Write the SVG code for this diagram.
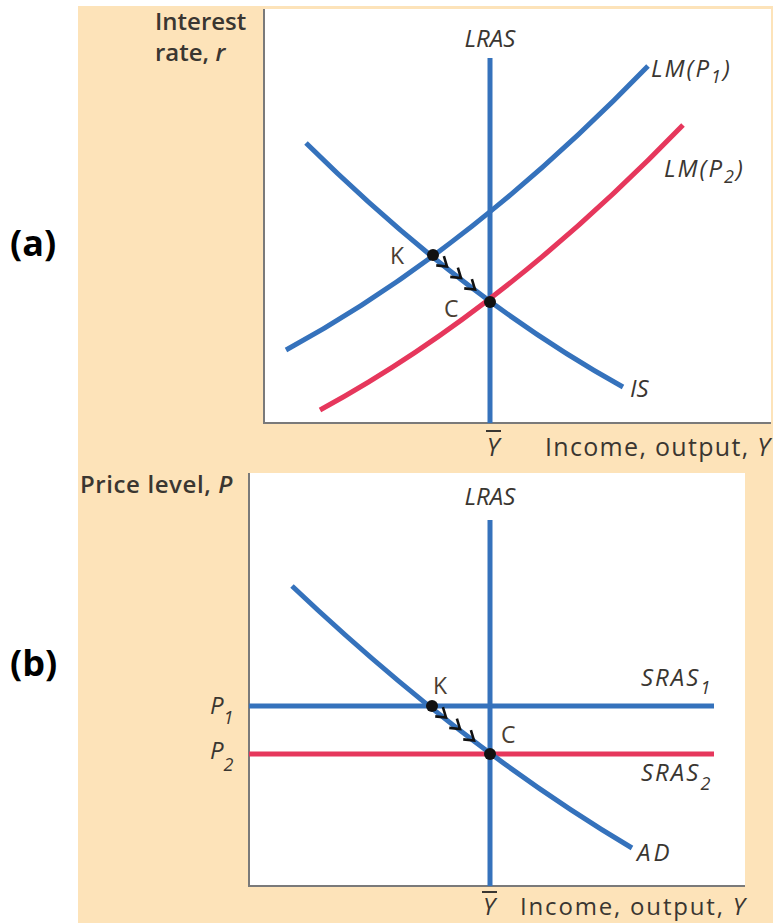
<svg xmlns="http://www.w3.org/2000/svg" xmlns:xlink="http://www.w3.org/1999/xlink" width="773" height="923" viewBox="0 0 773 923">
<style>
.bg{fill:#FDE3B9}
.plot{fill:#ffffff}
.axis{stroke:#7a7a7a;stroke-width:2;fill:none}
.blue{stroke:#3572BC;stroke-width:5;fill:none}
.red{stroke:#E6375C;stroke-width:5;fill:none}
.dot{fill:#111}
.chev{stroke:#111;stroke-width:2.6;fill:none;stroke-linejoin:miter}
text{font-family:"Open Sans","DejaVu Sans",sans-serif;fill:#3a3631}
.ax{font-size:25px}
.axs{font-size:24px}
.axb{font-size:24px;font-weight:600}
.lab{font-size:24px;font-style:italic}
.pt{font-size:23px;fill:#4a3e33}
.sub{font-size:18px}
.panel{font-family:"Open Sans",Arial,sans-serif;font-size:36px;font-weight:bold;fill:#000}
.bar{stroke:#3a3631;stroke-width:2}
</style>
<defs>
<path id="chev" class="chev" d="M-9,-6 L0,0 L-9,6"/>
</defs>
<rect class="bg" x="78" y="6" width="695" height="917"/>

<g id="panel-a">
<rect class="plot" x="264" y="9" width="507" height="414"/>
<path class="axis" d="M264,9 V423 H771"/>
</g>
<g id="panel-b">
<rect class="plot" x="249" y="473" width="496" height="413"/>
<path class="axis" d="M249,473 V886 H745"/>
</g>

<g id="connectors">
<line id="a-lras" class="blue" x1="490" y1="58" x2="490" y2="423"/>
<path id="a-lm1" class="blue" d="M286,350 Q470,250 648,66"/>
<path id="a-lm2" class="red" d="M320,410 Q504,310 683,125"/>
<path id="a-is" class="blue" d="M306,143 Q464,299 623,387"/>
<use xlink:href="#chev" transform="translate(447,266.5) rotate(39.5)"/>
<use xlink:href="#chev" transform="translate(461,278) rotate(39.5)"/>
<use xlink:href="#chev" transform="translate(475,289.5) rotate(39.5)"/>
<line id="b-lras" class="blue" x1="490" y1="520" x2="490" y2="886"/>
<line id="b-sras1" class="blue" x1="249" y1="706" x2="714" y2="706"/>
<line id="b-sras2" class="red" x1="249" y1="754" x2="714" y2="754"/>
<path id="b-ad" class="blue" d="M292,586 Q462,747 632,848"/>
<use xlink:href="#chev" transform="translate(446,717.5) rotate(39.6)"/>
<use xlink:href="#chev" transform="translate(460,729) rotate(39.6)"/>
<use xlink:href="#chev" transform="translate(474,740.5) rotate(39.6)"/>
</g>

<g id="node-a-K"><circle class="dot" cx="433" cy="255" r="6"/><text class="pt" x="390" y="264">K</text></g>
<g id="node-a-C"><circle class="dot" cx="490" cy="302" r="6"/><text class="pt" x="444" y="317">C</text></g>
<g id="node-b-K"><circle class="dot" cx="432" cy="706" r="6"/><text class="pt" x="433" y="694">K</text></g>
<g id="node-b-C"><circle class="dot" cx="490" cy="754" r="6"/><text class="pt" x="501" y="743">C</text></g>

<g id="labels-a">
<text class="axb" x="155" y="30">Interest</text>
<text class="axb" x="155" y="61">rate, <tspan font-style="italic">r</tspan></text>
<text class="lab" x="490" y="47" text-anchor="middle">LRAS</text>
<text class="lab" x="651" y="77" letter-spacing="2">LM(P<tspan class="sub" dy="6">1</tspan><tspan dy="-6">)</tspan></text>
<text class="lab" x="664" y="177" letter-spacing="2">LM(P<tspan class="sub" dy="6">2</tspan><tspan dy="-6">)</tspan></text>
<text class="lab" x="630" y="397">IS</text>
<text class="ax" x="493" y="456" text-anchor="middle" font-style="italic">Y</text>
<line class="bar" x1="486" y1="431" x2="501" y2="431"/>
<text class="ax" x="545" y="456" textLength="225">Income, output, <tspan font-style="italic">Y</tspan></text>
</g>

<g id="labels-b">
<text class="axb" x="80" y="493" letter-spacing="0.6">Price level, <tspan font-style="italic">P</tspan></text>
<text class="lab" x="490" y="505" text-anchor="middle">LRAS</text>
<text class="lab" x="641" y="686" letter-spacing="2">SRAS<tspan class="sub" dy="8">1</tspan></text>
<text class="lab" x="641" y="781" letter-spacing="2">SRAS<tspan class="sub" dy="9">2</tspan></text>
<text class="lab" x="210" y="714">P<tspan class="sub" dy="10">1</tspan></text>
<text class="lab" x="210" y="759">P<tspan class="sub" dy="12">2</tspan></text>
<text class="lab" x="637" y="861" letter-spacing="3">AD</text>
<text class="axs" x="489" y="915" text-anchor="middle" font-style="italic">Y</text>
<line class="bar" x1="482" y1="892" x2="497" y2="892"/>
<text class="axs" x="520" y="915" textLength="225">Income, output, <tspan font-style="italic">Y</tspan></text>
</g>

<text class="panel" x="10" y="256">(a)</text>
<text class="panel" x="10" y="676">(b)</text>
</svg>
